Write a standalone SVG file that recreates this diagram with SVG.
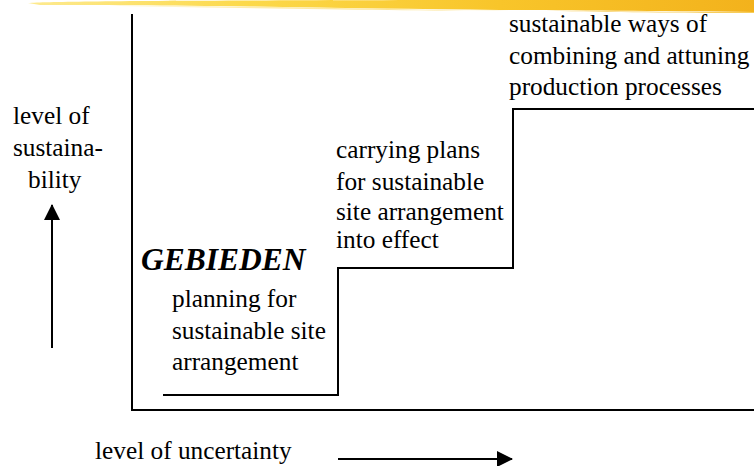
<svg xmlns="http://www.w3.org/2000/svg" width="754" height="466" viewBox="0 0 754 466">
<defs>
<linearGradient id="brush" x1="0" y1="0" x2="1" y2="0">
<stop offset="0" stop-color="#fdea90"/>
<stop offset="0.3" stop-color="#fcd94a"/>
<stop offset="0.65" stop-color="#f8c52a"/>
<stop offset="1" stop-color="#f3b21c"/>
</linearGradient>
<linearGradient id="streak" x1="0" y1="0" x2="1" y2="0">
<stop offset="0" stop-color="#fef3c0"/>
<stop offset="1" stop-color="#fbe08a"/>
</linearGradient>
<marker id="ah2" markerWidth="16" markerHeight="16" refX="15" refY="8" orient="auto" markerUnits="userSpaceOnUse" viewBox="0 0 16 16">
<path d="M0,0 L16,8 L0,16 Z" fill="#000"/>
</marker>
</defs>
<style>
text{font-family:"Liberation Serif","Times New Roman",serif;font-size:25.3px;fill:#000}
.title{font-weight:bold;font-style:italic;font-size:31.5px}
.ln{fill:none;stroke:#000;stroke-width:2}
</style>
<rect width="754" height="466" fill="#fff"/>
<g id="brushbar">
<path d="M28,3 C60,1 200,0 754,0 L754,12 C650,11 560,10.5 500,10 C420,9 330,8 250,6.5 C170,5.5 90,5 40,5 Z" fill="url(#brush)"/>
<path d="M120,6 C250,6 350,8.5 470,10.5 L520,11 C400,10.5 300,9 120,6 Z" fill="url(#streak)"/>
<path d="M560,11 C620,11.5 700,12 754,12 L754,13 C700,13 620,12.5 560,11 Z" fill="#f7cd5a"/>
</g>
<g id="connectors">
<path class="ln" d="M132,14 V410 H754"/>
<path class="ln" d="M163,395 H338 V268 H513 V109 H754"/>
<line class="ln" x1="52" y1="348" x2="52" y2="205" marker-end="url(#ah2)"/>
<line class="ln" x1="338" y1="459" x2="512" y2="459" marker-end="url(#ah2)"/>
</g>
<g id="yaxis-label">
<text x="13" y="124">level of</text>
<text x="13" y="156">sustaina-</text>
<text x="28" y="188">bility</text>
</g>
<g id="xaxis-label">
<text x="95" y="459">level of uncertainty</text>
</g>
<g id="title">
<text class="title" x="141" y="270">GEBIEDEN</text>
</g>
<g id="step1">
<text x="172" y="307">planning for</text>
<text x="172" y="339">sustainable site</text>
<text x="172" y="370">arrangement</text>
</g>
<g id="step2">
<text x="336" y="158">carrying plans</text>
<text x="336" y="190">for sustainable</text>
<text x="336" y="220">site arrangement</text>
<text x="336" y="248">into effect</text>
</g>
<g id="step3">
<text x="509" y="32">sustainable ways of</text>
<text x="509" y="64">combining and attuning</text>
<text x="509" y="95">production processes</text>
</g>
</svg>
